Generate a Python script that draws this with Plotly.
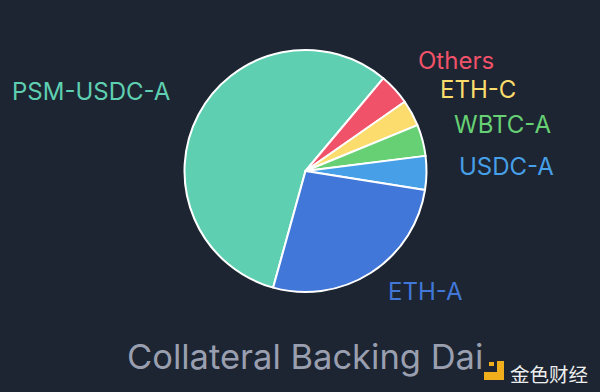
import plotly.graph_objects as go

labels = ["PSM-USDC-A", "Others", "ETH-C", "WBTC-A", "USDC-A", "ETH-A"]
values = [56.8, 4.2, 3.5, 4.2, 4.5, 26.8]
colors = ["#5fcfb2", "#f0526a", "#fbdc6c", "#67d074", "#479fe8", "#4177d8"]
label_xy = [(91, 91), (456, 60), (478, 89), (502, 124), (506, 166), (425, 291)]
title = "Collateral Backing Dai"
FONT = "Inter, 'Liberation Sans', sans-serif"
W, H = 600, 392

fig = go.Figure(go.Pie(
    labels=labels, values=values, sort=False, direction="clockwise", rotation=195.5,
    marker=dict(colors=colors, line=dict(color="white", width=2)),
    textinfo="none", hoverinfo="label+percent", showlegend=False,
    domain=dict(x=[184.5 / W, 426.5 / W], y=[1 - 292 / H, 1 - 50 / H]),
))

annotations = [
    dict(x=x / W, y=1 - y / H, xref="paper", yref="paper", text=t, showarrow=False,
         font=dict(family=FONT, size=24, color=c), xanchor="center", yanchor="middle")
    for t, c, (x, y) in zip(labels, colors, label_xy)
]
annotations.append(dict(x=305 / W, y=1 - 356 / H, xref="paper", yref="paper", text=title,
                        showarrow=False, font=dict(family=FONT, size=34.5, color="#9a9fb0"),
                        xanchor="center", yanchor="middle"))
annotations.append(dict(x=549 / W, y=1 - 373 / H, xref="paper", yref="paper", text="金色财经",
                        showarrow=False, font=dict(family="Noto Sans CJK SC", size=19.5, color="#eeeeee"),
                        xanchor="center", yanchor="middle"))

def rect(x0, y0, x1, y1):
    return dict(type="rect", xref="paper", yref="paper", x0=x0 / W, x1=x1 / W,
                y0=1 - y0 / H, y1=1 - y1 / H, fillcolor="#f0ad1c", line_width=0)

shapes = [rect(484, 372, 504, 380), rect(497, 361, 504, 380), rect(489, 362, 494, 366)]

fig.update_layout(width=W, height=H, margin=dict(l=0, r=0, t=0, b=0),
                  paper_bgcolor="#1c2531", plot_bgcolor="#1c2531",
                  annotations=annotations, shapes=shapes)
fig.write_html("out.html", config=dict(displayModeBar=False),
               post_script="document.body.style.margin='0';document.body.style.overflow='hidden';")
